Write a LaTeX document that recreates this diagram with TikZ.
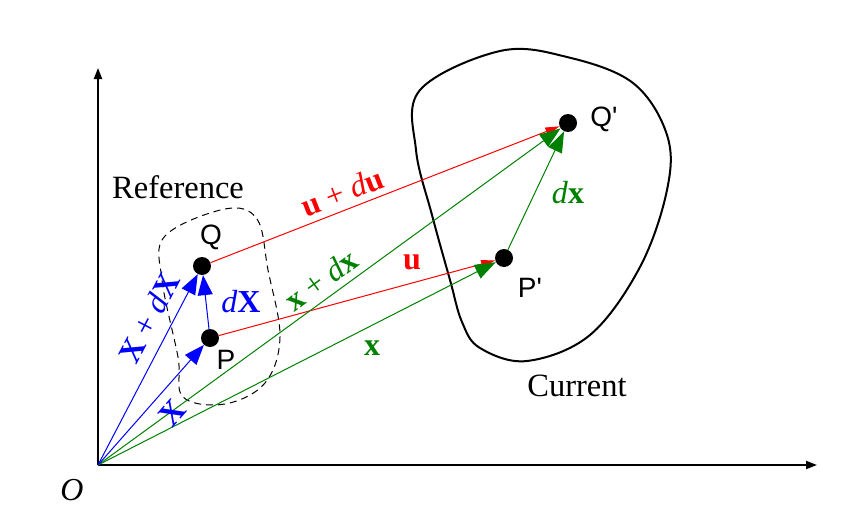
\documentclass[tikz,border=0pt]{standalone}
\usepackage{fontspec}
\setmainfont{Liberation Serif}
\newfontfamily\lsans{Liberation Sans}
\usetikzlibrary{arrows.meta}
\definecolor{dgreen}{RGB}{0,128,0}
\tikzset{
  dot/.style={circle,fill=black,inner sep=0pt,minimum size=18pt},
  ptlabel/.style={font=\lsans\fontsize{28}{32}\selectfont},
  bigtxt/.style={font=\fontsize{32.5}{38}\selectfont},
  vlabel/.style={font=\fontsize{32}{38}\selectfont,inner sep=0pt},
  bluearr/.style={blue,line width=1pt,-{Triangle[length=20pt,width=15pt]}},
  greenarr/.style={dgreen,line width=1pt,-{Triangle[length=21pt,width=15pt]}},
  redarr/.style={red,line width=1pt,-{Triangle[length=14pt,width=8pt]}},
  axis/.style={line width=2pt,-{Triangle[length=11pt,width=8pt]}}
}
\begin{document}
\begin{tikzpicture}[x=1pt,y=-1pt]
\useasboundingbox (0,0) rectangle (852,522);
% axes
\coordinate (O) at (98,465);
\coordinate (ytop) at (98,68);
\coordinate (xend) at (817,465);
\draw[axis] (O) -- (ytop);
\draw[axis] (O) -- (xend);
\node[bigtxt,font=\fontsize{32}{38}\selectfont\itshape] (olab) at (72,490) {O};
% current blob
\draw[line width=2pt] plot[smooth cycle,tension=0.6] coordinates {
 (500,51) (567,57) (633,83) (667,135) (667,190) (640,267) (590,335) (527,361)
 (480,348) (462,322) (450,280) (432,215) (416,150) (420,90)};
% reference dashed blob
\draw[line width=1pt,dash pattern=on 7pt off 5pt] plot[smooth cycle,tension=0.6] coordinates {
 (225,209) (257,219) (268,270) (280,337) (265,383) (225,404) (183,397) (178,357)
 (162,280) (165,236)};
% points
\node[dot] (Q) at (202,266) {};
\node[dot] (P) at (210,338) {};
\node[dot] (Pp) at (504,258) {};
\node[dot] (Qp) at (568,123) {};
% red
\draw[redarr] (P) -- (Pp);
\draw[redarr] (Q) -- (Qp);
% green
\draw[greenarr] (O) -- (Pp);
\draw[greenarr] (O) -- (Qp);
\draw[greenarr] (Pp) -- (Qp);
% blue
\draw[bluearr] (O) -- (Q);
\draw[bluearr] (O) -- (P);
\draw[bluearr] (P) -- (Q);
% point labels
\node[ptlabel] (Ql) at (211,237) {Q};
\node[ptlabel] (Pl) at (226,360) {P};
\node[ptlabel] (Ppl) at (530,288) {P'};
\node[ptlabel] (Qpl) at (604,119) {Q'};
% region labels
\node[bigtxt] (ref) at (178,187) {Reference};
\node[bigtxt] (cur) at (577,386) {Current};
% vector labels
\node[vlabel,blue,rotate=62.4] (lXdX) at (149,318) {\textbf{X} + \textit{d}\textbf{X}};
\node[vlabel,blue,rotate=48.6] (lX) at (172,413) {\textbf{X}};
\node[vlabel,blue] (ldX) at (241,302) {\textit{d}\textbf{X}};
\node[vlabel,red,rotate=21.3] (ludu) at (342,192) {\textbf{u} + \textit{d}\textbf{u}};
\node[vlabel,red] (lu) at (412,262) {\textbf{u}};
\node[vlabel,dgreen,rotate=36] (lxdx) at (321,280) {\textbf{x} + \textit{d}\textbf{x}};
\node[vlabel,dgreen] (lx) at (372,348) {\textbf{x}};
\node[vlabel,dgreen] (ldx) at (568,193) {\textit{d}\textbf{x}};
\end{tikzpicture}
\end{document}
